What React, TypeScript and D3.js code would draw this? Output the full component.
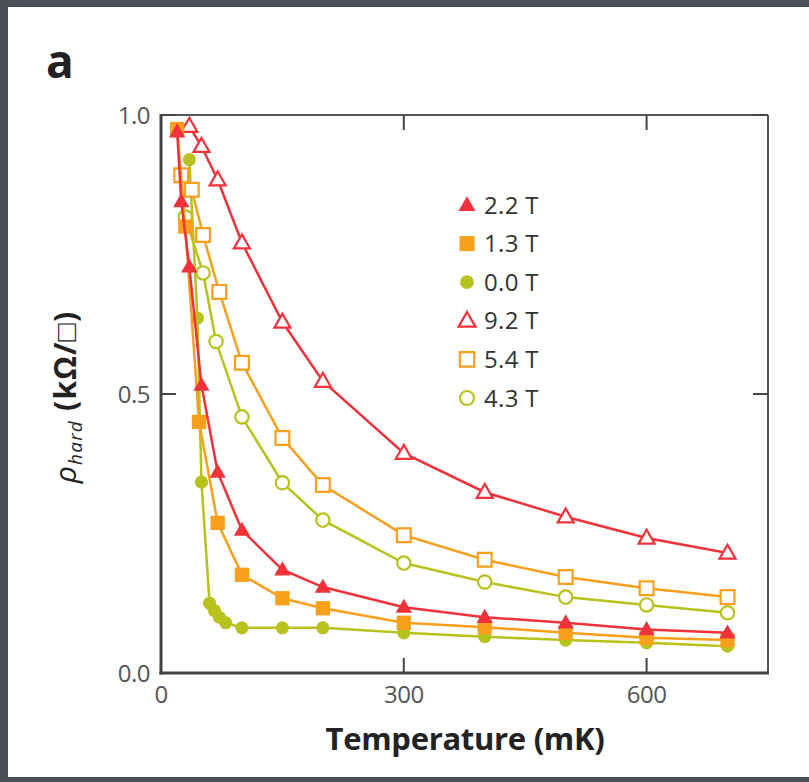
import React from "react";
import * as d3 from "d3";

const tempsA = [20, 25, 35, 50, 70, 100, 150, 200, 300, 400, 500, 600, 700];
const rhoA = [0.97, 0.845, 0.728, 0.516, 0.36, 0.256, 0.185, 0.154, 0.118, 0.1, 0.09, 0.078, 0.072];

const tempsB = [20, 30, 47, 70, 100, 150, 200, 300, 400, 500, 600, 700];
const rhoB = [0.975, 0.8, 0.45, 0.269, 0.176, 0.134, 0.116, 0.09, 0.082, 0.072, 0.063, 0.059];

const tempsC = [35, 45, 50, 60, 66, 72, 80, 100, 150, 200, 300, 400, 500, 600, 700];
const rhoC = [0.92, 0.636, 0.342, 0.125, 0.112, 0.1, 0.09, 0.081, 0.081, 0.081, 0.072, 0.065, 0.059, 0.054, 0.048];

const tempsD = [35, 50, 70, 100, 150, 200, 300, 400, 500, 600, 700];
const rhoD = [0.98, 0.944, 0.884, 0.771, 0.629, 0.523, 0.394, 0.324, 0.28, 0.242, 0.215];

const tempsE = [25, 38, 52, 72, 100, 150, 200, 300, 400, 500, 600, 700];
const rhoE = [0.892, 0.866, 0.785, 0.683, 0.556, 0.421, 0.337, 0.247, 0.203, 0.172, 0.152, 0.136];

const tempsF = [30, 52, 68, 100, 150, 200, 300, 400, 500, 600, 700];
const rhoF = [0.817, 0.717, 0.594, 0.459, 0.341, 0.274, 0.197, 0.163, 0.136, 0.122, 0.108];

const legendLabels = ["2.2 T", "1.3 T", "0.0 T", "9.2 T", "5.4 T", "4.3 T"];
const xTicks = [0, 300, 600];
const yTicks = [0, 0.5, 1.0];

const RED = "#f1323a";
const ORANGE = "#f8a01c";
const GREEN = "#b8c21c";

type Series = {
  label: string;
  temps: number[];
  rho: number[];
  color: string;
  shape: "tri" | "sq" | "circ";
  filled: boolean;
};

const series: Series[] = [
  { label: legendLabels[0], temps: tempsA, rho: rhoA, color: RED, shape: "tri", filled: true },
  { label: legendLabels[1], temps: tempsB, rho: rhoB, color: ORANGE, shape: "sq", filled: true },
  { label: legendLabels[2], temps: tempsC, rho: rhoC, color: GREEN, shape: "circ", filled: true },
  { label: legendLabels[3], temps: tempsD, rho: rhoD, color: RED, shape: "tri", filled: false },
  { label: legendLabels[4], temps: tempsE, rho: rhoE, color: ORANGE, shape: "sq", filled: false },
  { label: legendLabels[5], temps: tempsF, rho: rhoF, color: GREEN, shape: "circ", filled: false },
];

const drawOrder = [2, 5, 4, 3, 1, 0];

function markerPath(shape: string, filled: boolean, scale = 1) {
  const type = shape === "tri" ? d3.symbolTriangle : shape === "sq" ? d3.symbolSquare : d3.symbolCircle;
  let size: number;
  if (shape === "tri") size = filled ? 115 : 112;
  else if (shape === "sq") size = filled ? 205 : 190;
  else size = filled ? 135 : 140;
  return d3.symbol().type(type).size(size * scale)() as string;
}

export default function App() {
  const W = 809;
  const H = 782;
  const x = d3.scaleLinear().domain([0, 750]).range([161, 768]);
  const y = d3.scaleLinear().domain([0, 1]).range([673, 115]);
  const line = d3
    .line<[number, number]>()
    .x((d) => x(d[0]))
    .y((d) => y(d[1]));

  const left = x(0);
  const right = x(750);
  const top = y(1);
  const bottom = y(0);
  const tickFont = "'Open Sans', 'Noto Sans', sans-serif";

  return (
    <div style={{ position: "absolute", left: 0, top: 0 }}>
      <style>{`body{margin:0}`}</style>
      <svg width={W} height={H} viewBox={`0 0 ${W} ${H}`}>
        <rect x={0} y={0} width={W} height={H} fill="#4b4f58" />
        <rect x={8} y={7} width={W - 8} height={770} fill="#ffffff" />
        <text x={46} y={78} fontFamily="'Open Sans', sans-serif" fontWeight={700} fontSize={46} fill="#222">
          a
        </text>

        {/* series */}
        {drawOrder.map((i) => {
          const s = series[i];
          const pts: [number, number][] = s.temps.map((t, k) => [t, s.rho[k]]);
          return (
            <g key={s.label}>
              <path d={line(pts) as string} fill="none" stroke={s.color} strokeWidth={2.5} />
              {pts.map((p, k) => (
                <path
                  key={k}
                  d={markerPath(s.shape, s.filled)}
                  transform={`translate(${x(p[0])},${y(p[1]) + (s.shape === "tri" ? 1 : 0)})`}
                  fill={s.filled ? s.color : "#fff"}
                  stroke={s.color}
                  strokeWidth={s.filled ? 0 : 2.2}
                />
              ))}
            </g>
          );
        })}

        {/* frame */}
        <line x1={left} y1={top} x2={right} y2={top} stroke="#555" strokeWidth={2} />
        <line x1={right} y1={top} x2={right} y2={bottom} stroke="#555" strokeWidth={2} />
        <line x1={left} y1={top - 1} x2={left} y2={bottom + 1.5} stroke="#444" strokeWidth={3} />
        <line x1={left - 1.5} y1={bottom} x2={right + 1} y2={bottom} stroke="#444" strokeWidth={3} />

        {/* ticks */}
        {xTicks.filter((t) => t > 0).map((t) => (
          <g key={"xt" + t}>
            <line x1={x(t)} x2={x(t)} y1={bottom} y2={bottom - 15} stroke="#444" strokeWidth={2} />
            <line x1={x(t)} x2={x(t)} y1={top} y2={top + 15} stroke="#444" strokeWidth={2} />
          </g>
        ))}
        {yTicks.map((t) => (
          <g key={"yt" + t}>
            <line x1={left} x2={left + 15} y1={y(t)} y2={y(t)} stroke="#444" strokeWidth={2} />
            <line x1={right} x2={right - 15} y1={y(t)} y2={y(t)} stroke="#444" strokeWidth={2} />
          </g>
        ))}

        {/* tick labels */}
        {xTicks.map((t) => (
          <text
            key={"xl" + t}
            x={x(t)}
            y={703}
            textAnchor="middle"
            fontFamily={tickFont}
            fontSize={24}
            letterSpacing={-0.5}
            fill="#555"
          >
            {String(t)}
          </text>
        ))}
        {yTicks.map((t) => (
          <text
            key={"yl" + t}
            x={150}
            y={y(t) + 8.5}
            textAnchor="end"
            fontFamily={tickFont}
            fontSize={24}
            letterSpacing={-0.5}
            fill="#555"
          >
            {t.toFixed(1)}
          </text>
        ))}

        {/* axis titles */}
        <text
          x={465}
          y={750}
          textAnchor="middle"
          fontFamily="'Open Sans', sans-serif"
          fontWeight={700}
          fontSize={31}
          letterSpacing={-0.3}
          fill="#222"
        >
          Temperature (mK)
        </text>
        <text
          transform="translate(76,397) rotate(-90)"
          textAnchor="middle"
          fontFamily="'Open Sans', sans-serif"
          fontSize={30}
          letterSpacing={1.2}
          fill="#222"
        >
          <tspan fontStyle="italic">ρ</tspan>
          <tspan fontStyle="italic" fontSize={19} dy={6}>
            hard
          </tspan>
          <tspan fontWeight={700} dy={-6}>
            {" (kΩ/□)"}
          </tspan>
        </text>

        {/* legend */}
        {series.map((s, i) => {
          const ly = 205 + i * 38.6;
          return (
            <g key={"lg" + i}>
              <path
                d={markerPath(s.shape, s.filled, 1.1)}
                transform={`translate(467,${ly + (s.shape === "tri" ? 1 : 0)})`}
                fill={s.filled ? s.color : "#fff"}
                stroke={s.color}
                strokeWidth={s.filled ? 0 : 2.2}
              />
              <text
                x={484}
                y={ly + 8.5}
                fontFamily="'Open Sans', sans-serif"
                fontSize={24}
                letterSpacing={0.3}
                fill="#333"
              >
                {s.label}
              </text>
            </g>
          );
        })}
      </svg>
    </div>
  );
}
